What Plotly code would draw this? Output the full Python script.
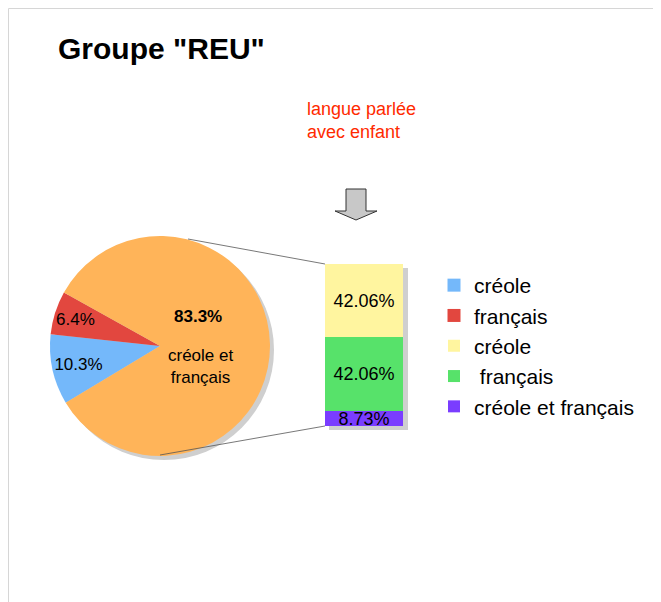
import math
import plotly.graph_objects as go

# ---- data ----
pie_labels = ["créole", "français", "créole et français"]
pie_values = [10.3, 6.4, 83.3]
pie_colors = ["#74b8fa", "#e2473f", "#ffb459"]
pie_category_text = ["", "", "créole et<br>français"]

bar_labels = ["créole", " français", "créole et français"]
bar_values = [42.06, 42.06, 8.73]
bar_colors = ["#fff59f", "#57e26a", "#7a3dff"]
bar_category = ["langue parlée avec enfant"]

title_text = 'Groupe "REU"'
note_text = "langue parlée<br>avec enfant"

# ---- geometry (page pixels; page has an 8px body margin) ----
OFF = 8
W, H = 661 - OFF, 602 - OFF
FONT = "Liberation Sans, Arial, sans-serif"


def px(x):
    return (x - OFF) / W


def py(y):
    return 1 - (y - OFF) / H


PIE_CX, PIE_CY, PIE_R = 160, 346, 110
PIE_ROT = 239  # degrees clockwise from 12 o'clock where the first slice starts

fig = go.Figure()

# pie shadow
fig.add_trace(go.Pie(
    values=[1], labels=["ombre"], marker=dict(colors=["#cfcfcf"], line=dict(width=0)),
    textinfo="none", hoverinfo="skip", showlegend=False, sort=False,
    domain=dict(x=[px(PIE_CX - PIE_R + 4), px(PIE_CX + PIE_R + 4)],
                y=[py(PIE_CY + PIE_R + 4), py(PIE_CY - PIE_R + 4)]),
))

# main pie (only the blue slice uses the built-in inside text; the others get
# annotations placed at their computed mid-angle)
fig.add_trace(go.Pie(
    values=pie_values, labels=pie_labels,
    marker=dict(colors=pie_colors, line=dict(width=0)),
    sort=False, direction="clockwise", rotation=PIE_ROT,
    textposition=["inside", "none", "none"], insidetextorientation="horizontal",
    texttemplate="%{percent:.1%}",
    textfont=dict(family=FONT, size=17, color="black"),
    showlegend=False, hoverinfo="label+percent",
    domain=dict(x=[px(PIE_CX - PIE_R), px(PIE_CX + PIE_R)],
                y=[py(PIE_CY + PIE_R), py(PIE_CY - PIE_R)]),
))

# stacked bar (y axis reversed so the first segment sits on top)
for i in range(len(bar_values)):
    fig.add_trace(go.Bar(
        x=bar_category, y=[bar_values[i]], name=bar_labels[i],
        marker=dict(color=bar_colors[i], line=dict(width=0)),
        texttemplate="%{y:.2f}%", textposition="inside", insidetextanchor="middle",
        constraintext="none", textangle=0, cliponaxis=False,
        textfont=dict(family=FONT, size=18, color="black"),
        legendgroup="b%d" % i, legendrank=1010 + i,
    ))

# legend entries for the pie slices (créole, français)
for i in range(2):
    fig.add_trace(go.Scatter(
        x=[None], y=[None], mode="markers", name=pie_labels[i],
        marker=dict(color=pie_colors[i], symbol="square", size=13),
        legendgroup="p%d" % i, legendrank=1000 + i, showlegend=True, hoverinfo="skip",
    ))

total_bar = sum(bar_values)
total_pie = sum(pie_values)


def slice_label_pos(idx, frac):
    before = sum(pie_values[:idx])
    mid = PIE_ROT + (before + pie_values[idx] / 2) / total_pie * 360
    t = math.radians(mid)
    return (PIE_CX + frac * PIE_R * math.sin(t), PIE_CY - frac * PIE_R * math.cos(t))


annotations = [
    dict(text="<b>" + title_text + "</b>", x=px(56), y=py(49), xref="paper", yref="paper",
         xanchor="left", yanchor="middle", showarrow=False,
         font=dict(family=FONT, size=30, color="black")),
    dict(text=note_text, x=px(305), y=py(121), xref="paper", yref="paper",
         xanchor="left", yanchor="middle", align="left", showarrow=False,
         font=dict(family=FONT, size=18, color="#ff2a00")),
]

# red slice label
rx, ry = slice_label_pos(1, 0.79)
annotations.append(dict(
    text="%.1f%%" % (pie_values[1] / total_pie * 100), x=px(rx - 2), y=py(ry),
    xref="paper", yref="paper", showarrow=False, xanchor="center", yanchor="middle",
    font=dict(family=FONT, size=17, color="black")))

# orange slice labels (value above, category below)
ox, oy = slice_label_pos(2, 0.37)
annotations.append(dict(
    text="<b>%.1f%%</b>" % (pie_values[2] / total_pie * 100), x=px(ox - 3), y=py(oy - 29),
    xref="paper", yref="paper", showarrow=False, xanchor="center", yanchor="middle",
    font=dict(family=FONT, size=17, color="black")))
annotations.append(dict(
    text=pie_category_text[2], x=px(ox), y=py(oy + 21),
    xref="paper", yref="paper", showarrow=False, xanchor="center", yanchor="middle",
    font=dict(family=FONT, size=17, color="black")))

fig.update_layout(
    width=W, height=H, autosize=False,
    margin=dict(l=0, r=0, t=0, b=0),
    paper_bgcolor="white", plot_bgcolor="rgba(0,0,0,0)",
    barmode="stack", bargap=0,
    font=dict(family=FONT, color="black"),
    xaxis=dict(type="category", domain=[px(325), px(403)], visible=False, fixedrange=True),
    yaxis=dict(domain=[py(426), py(264)], range=[total_bar, 0], visible=False, fixedrange=True),
    legend=dict(
        x=px(434), y=py(265), xanchor="left", yanchor="top",
        font=dict(size=21, family=FONT, color="black"),
        traceorder="grouped", tracegroupgap=0, bgcolor="rgba(0,0,0,0)",
        itemclick=False, itemdoubleclick=False,
    ),
    annotations=annotations,
    shapes=[
        # frame
        dict(type="line", xref="paper", yref="paper", x0=px(8.5), x1=1, y0=py(8.5), y1=py(8.5),
             line=dict(color="#d6d6d6", width=1)),
        dict(type="line", xref="paper", yref="paper", x0=px(8.5), x1=px(8.5), y0=py(8.5), y1=0,
             line=dict(color="#d6d6d6", width=1)),
        # bar shadow
        dict(type="rect", xref="paper", yref="paper", x0=px(329), x1=px(408), y0=py(430), y1=py(268),
             fillcolor="#cfcfcf", line=dict(width=0), layer="below"),
        # connector lines
        dict(type="line", xref="paper", yref="paper", x0=px(188), y0=py(239), x1=px(325), y1=py(264),
             line=dict(color="#555555", width=0.8)),
        dict(type="line", xref="paper", yref="paper", x0=px(160), y0=py(455), x1=px(325), y1=py(426),
             line=dict(color="#555555", width=0.8)),
        # arrow
        dict(type="path", xref="paper", yref="paper",
             path="M {a},{b} L {c},{b} L {c},{d} L {e},{d} L {f},{g} L {h},{d} L {a},{d} Z".format(
                 a=px(346), b=py(189), c=px(366), d=py(211), e=px(377), f=px(356), g=py(220),
                 h=px(335)),
             fillcolor="#c8c8c8", line=dict(color="#333333", width=1)),
    ],
)

fig.write_html("out.html")
